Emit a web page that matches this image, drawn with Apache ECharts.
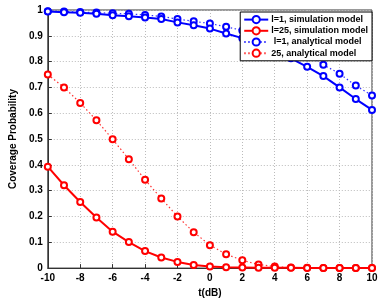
<!DOCTYPE html>
<html><head><meta charset="utf-8">
<script src="https://cdn.jsdelivr.net/npm/echarts@6/dist/echarts.min.js"></script>
<style>html,body{margin:0;padding:0;background:#fff}#c{width:381px;height:303px}</style>
</head><body><div id="c"></div>
<script>
const tValues = [-10,-9,-8,-7,-6,-5,-4,-3,-2,-1,0,1,2,3,4,5,6,7,8,9,10];
const l1Sim = [0.994,0.991,0.989,0.985,0.980,0.976,0.971,0.965,0.952,0.941,0.928,0.909,0.891,0.868,0.842,0.813,0.780,0.744,0.700,0.655,0.613];
const l25Sim = [0.393,0.321,0.256,0.196,0.141,0.101,0.066,0.041,0.024,0.012,0.006,0.003,0.002,0.001,0.001,0.001,0.0,0.0,0.0,0.0,0.0];
const l1Ana = [0.995,0.994,0.992,0.990,0.987,0.985,0.981,0.975,0.965,0.956,0.948,0.935,0.921,0.905,0.885,0.860,0.826,0.788,0.753,0.707,0.669];
const l25Ana = [0.750,0.700,0.640,0.573,0.499,0.422,0.342,0.270,0.200,0.139,0.089,0.054,0.030,0.014,0.006,0.002,0.001,0.0,0.0,0.0,0.0];
const seriesNames = ['l=1, simulation model','l=25, simulation model',' l=1, analytical model','25, analytical model'];

const pairs = v => tValues.map((t,i)=>[t,v[i]]);
const font = 'Liberation Sans, Arial, sans-serif';
function mk(name, vals, color, dotted){
  return {
    name, type:'line', data:pairs(vals), symbol:'emptyCircle', symbolSize:6,
    showAllSymbol:true,
    lineStyle:{color, width: dotted?1.2:2, type: dotted?[1.5,2.5]:'solid', opacity: dotted?0.8:1},
    itemStyle:{color, borderColor:color, borderWidth:1.8},
    emphasis:{disabled:true}, animation:false, z: dotted?2:3
  };
}
const chart = echarts.init(document.getElementById('c'), null, {renderer:'canvas'});
chart.setOption({
  animation:false,
  grid:{left:31, right:9, top:10, bottom:26, show:true, borderColor:'#333', borderWidth:1, containLabel:false},
  xAxis:{type:'value', min:-10, max:10, interval:2,
    name:'t(dB)', nameLocation:'middle', nameGap:16,
    nameTextStyle:{fontFamily:font, fontWeight:'bold', fontSize:10, color:'#000'},
    axisLine:{show:true, onZero:false, lineStyle:{color:'#333'}},
    axisTick:{show:true, inside:true, length:4, lineStyle:{color:'#333'}},
    axisLabel:{fontFamily:font, fontWeight:'bold', fontSize:10, color:'#000', margin:5},
    splitLine:{show:true, lineStyle:{color:'#bbb', type:[1,2], width:1}}
  },
  yAxis:{type:'value', min:0, max:1, interval:0.1,
    name:'Coverage Probability', nameLocation:'middle', nameGap:21,
    nameTextStyle:{fontFamily:font, fontWeight:'bold', fontSize:10, color:'#000'},
    axisLine:{show:true, onZero:false, lineStyle:{color:'#333'}},
    axisTick:{show:true, inside:true, length:4, lineStyle:{color:'#333'}},
    axisLabel:{fontFamily:font, fontWeight:'bold', fontSize:10, color:'#000', margin:5},
    splitLine:{show:true, lineStyle:{color:'#bbb', type:[1,2], width:1}}
  },
  legend:{
    data:seriesNames, orient:'vertical', right:9, top:12,
    backgroundColor:'#fff', borderColor:'#000', borderWidth:1,
    padding:[3,4,3,3], itemGap:2, itemWidth:24, itemHeight:9,
    textStyle:{fontFamily:font, fontWeight:'bold', fontSize:9, color:'#000', padding:[0,0,0,-2]},
    selectedMode:false
  },
  series:[
    mk(seriesNames[0], l1Sim, '#0000ff', false),
    mk(seriesNames[1], l25Sim, '#ff0000', false),
    mk(seriesNames[2], l1Ana, '#0000ff', true),
    mk(seriesNames[3], l25Ana, '#ff0000', true)
  ]
});
</script></body></html>
